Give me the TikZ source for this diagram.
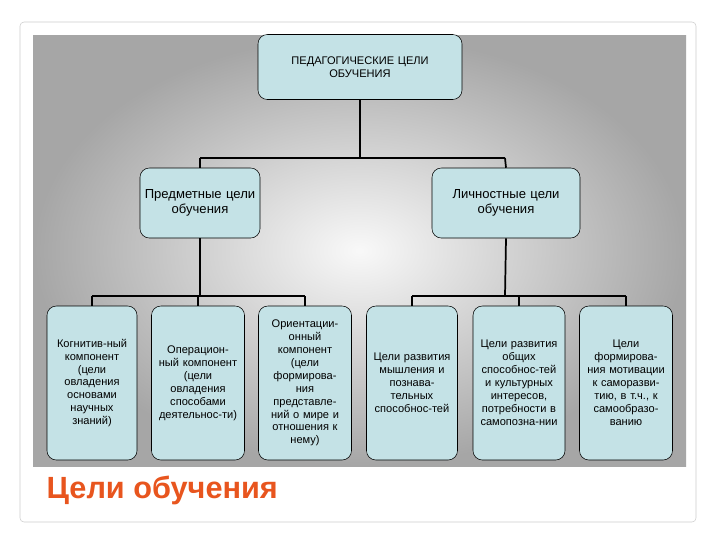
\documentclass[tikz,border=0pt]{standalone}
\usepackage{fontspec}
\setmainfont{Liberation Sans}
\begin{document}
\begin{tikzpicture}[x=0.75pt,y=-0.75pt,
  box/.style={draw=black,fill={rgb,255:red,196;green,226;blue,230},rounded corners=7pt,align=center,inner sep=1pt,font=\fontsize{8.3}{9.7}\selectfont},
  conn/.style={draw=black,line width=1.3pt}]
\useasboundingbox (0,0) rectangle (720,540);
\fill[white] (0,0) rectangle (720,540);
\draw[gray!40,rounded corners=3pt] (20,22) rectangle (696,522);
\shade[inner color=gray!5,outer color=gray!70,shading=radial] (33,35) rectangle (686,466);
\node[box,minimum width=153pt,minimum height=48.75pt,text width=140pt] (top) at (360,67) {ПЕДАГОГИЧЕСКИЕ ЦЕЛИ\\ОБУЧЕНИЯ};
\node[box,font=\fontsize{9.8}{11.7}\selectfont,minimum width=90pt,minimum height=52.5pt,text width=85pt] (ml) at (200,203) {Предметные цели\\обучения};
\node[box,font=\fontsize{9.8}{11.7}\selectfont,minimum width=111pt,minimum height=52.5pt,text width=100pt] (mr) at (506,203) {Личностные цели\\обучения};
\foreach \n/\x/\w/\t in {b1/92/90/{Когнитив-ный\\компонент\\(цели\\овладения\\основами\\научных\\знаний)},
  b2/198/93/{Операцион-\\ный компонент\\(цели\\овладения\\способами\\деятельнос-ти)},
  b3/305/93/{Ориентации-\\онный\\компонент\\(цели\\формирова-\\ния\\представле-\\ний о мире и\\отношения к\\нему)},
  b4/412/91/{Цели развития\\мышления и\\познава-\\тельных\\способнос-тей},
  b5/519/92/{Цели развития\\общих\\способнос-тей\\и культурных\\интересов,\\потребности в\\самопозна-нии},
  b6/626/93/{Цели\\формирова-\\ния мотивации\\к саморазви-\\тию, в т.ч., к\\самообразо-\\ванию}}
  \node[box,minimum width=\w*0.75pt,minimum height=115.5pt,text width=\w*0.75pt-3pt] (\n) at (\x,383) {\t};
\draw[conn] (top.south) -- (360,158) coordinate (j0);
\draw[conn] (200,158) -- (505,158);
\draw[conn] (200,158) -- (ml.north);
\draw[conn] (505,158) -- (mr.north);
\draw[conn] (ml.south) -- (200,296);
\draw[conn] (92,296) -- (305,296);
\foreach \n in {b1,b2,b3} \draw[conn] (\n.north|-0,296) -- (\n.north);
\draw[conn] (mr.south) -- (505,296);
\draw[conn] (412,296) -- (626,296);
\foreach \n in {b4,b5,b6} \draw[conn] (\n.north|-0,296) -- (\n.north);
\node[anchor=west,font=\bfseries\fontsize{23}{26}\selectfont,text={rgb,255:red,232;green,85;blue,30}] (title) at (42,490) {Цели обучения};
\end{tikzpicture}
\end{document}
